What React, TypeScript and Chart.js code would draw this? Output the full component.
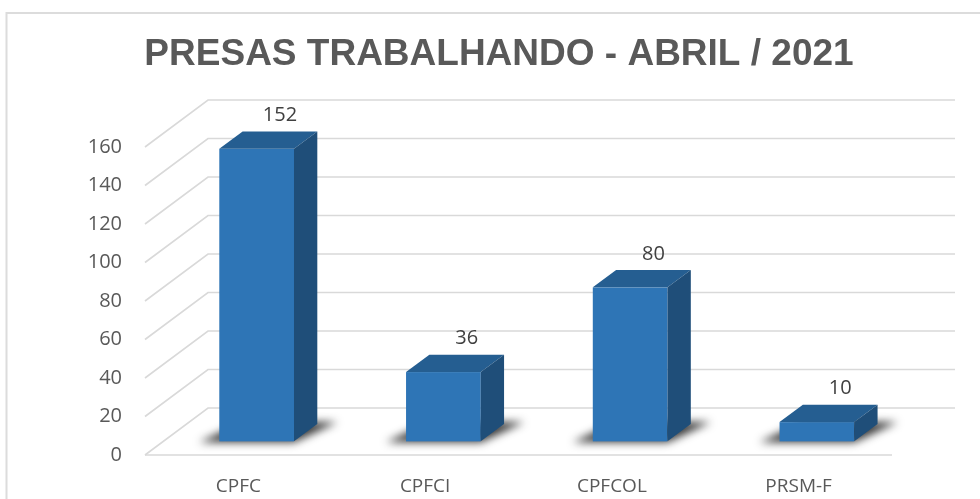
import { useEffect, useRef } from "react";
import { Chart, registerables } from "chart.js";

Chart.register(...registerables);

const categories = ["CPFC", "CPFCI", "CPFCOL", "PRSM-F"];
const values = [152, 36, 80, 10];
const yTicks = [0, 20, 40, 60, 80, 100, 120, 140, 160];
const titleText = "PRESAS TRABALHANDO - ABRIL / 2021";

const DX = 63; // depth offset of floor (x)
const DY = 47; // depth offset of floor (y)
const F1 = 0.29; // bar front depth fraction
const F2 = 0.66; // bar back depth fraction
const FRONT = "#2E75B6";
const TOP = "#255E91";
const SIDE = "#1F4E79";
const GRID = "#d9d9d9";

const threeD = {
  id: "threeD",
  beforeDraw(chart: any) {
    const ctx = chart.ctx;
    ctx.save();
    ctx.strokeStyle = "#dcdcdc";
    ctx.lineWidth = 2;
    ctx.strokeRect(6.5, 13, 1200, 800);
    ctx.restore();
  },
  beforeDatasetsDraw(chart: any) {
    const ctx = chart.ctx;
    const { left, right } = chart.chartArea;
    const ys = chart.scales.y;
    ctx.save();
    ctx.strokeStyle = GRID;
    ctx.lineWidth = 1.6;
    yTicks.forEach((v) => {
      const y = ys.getPixelForValue(v);
      ctx.beginPath();
      ctx.moveTo(left, y);
      ctx.lineTo(left + DX, y - DY);
      ctx.lineTo(right + DX, y - DY);
      ctx.stroke();
    });
    const y0 = ys.getPixelForValue(yTicks[0]);
    ctx.beginPath();
    ctx.moveTo(left, y0);
    ctx.lineTo(right, y0);
    ctx.stroke();
    ctx.restore();
  },
  afterDatasetsDraw(chart: any) {
    const ctx = chart.ctx;
    const meta = chart.getDatasetMeta(0);
    const sx1 = F1 * DX, sy1 = F1 * DY;
    const bdx = (F2 - F1) * DX, bdy = (F2 - F1) * DY;
    // shadows
    meta.data.forEach((bar: any) => {
      const w = bar.width;
      const fl = bar.x - w / 2 + sx1;
      const fr = bar.x + w / 2 + sx1;
      const fb = bar.base - sy1;
      ctx.save();
      ctx.filter = "blur(4px)";
      ctx.fillStyle = "rgba(20,20,20,0.85)";
      ctx.beginPath();
      ctx.moveTo(fl - 20, fb + 1);
      ctx.lineTo(fr, fb + 1);
      ctx.lineTo(fr + bdx + 20, fb - bdy - 2);
      ctx.lineTo(fl + bdx, fb - bdy - 2);
      ctx.closePath();
      ctx.fill();
      ctx.restore();
    });
    meta.data.forEach((bar: any, i: number) => {
      const w = bar.width;
      const fl = bar.x - w / 2 + sx1;
      const fr = bar.x + w / 2 + sx1;
      const ft = bar.y - sy1;
      const fb = bar.base - sy1;
      ctx.save();
      // front
      ctx.fillStyle = FRONT;
      ctx.fillRect(fl, ft, fr - fl, fb - ft);
      // top
      ctx.fillStyle = TOP;
      ctx.beginPath();
      ctx.moveTo(fl, ft);
      ctx.lineTo(fr, ft);
      ctx.lineTo(fr + bdx, ft - bdy);
      ctx.lineTo(fl + bdx, ft - bdy);
      ctx.closePath();
      ctx.fill();
      // side
      ctx.fillStyle = SIDE;
      ctx.beginPath();
      ctx.moveTo(fr, ft);
      ctx.lineTo(fr + bdx, ft - bdy);
      ctx.lineTo(fr + bdx, fb - bdy);
      ctx.lineTo(fr, fb);
      ctx.closePath();
      ctx.fill();
      // label
      ctx.fillStyle = "#404040";
      ctx.font = "20px 'Open Sans'";
      ctx.textAlign = "center";
      ctx.textBaseline = "middle";
      ctx.fillText(String(values[i]), bar.x + sx1 + bdx, ft - bdy - 16);
      ctx.restore();
    });
  },
};

export default function App() {
  const ref = useRef<HTMLCanvasElement | null>(null);
  useEffect(() => {
    document.body.style.margin = "0";
    const chart = new Chart(ref.current as HTMLCanvasElement, {
      type: "bar",
      data: {
        labels: categories,
        datasets: [
          {
            data: values,
            backgroundColor: "rgba(0,0,0,0)",
            borderWidth: 0,
            barPercentage: 0.4,
            categoryPercentage: 1,
          },
        ],
      },
      options: {
        animation: false,
        responsive: false,
        layout: { padding: { left: 18, right: 0, top: 0, bottom: 0 } },
        plugins: {
          legend: { display: false },
          tooltip: { enabled: false },
          title: {
            display: true,
            text: titleText,
            color: "#595959",
            font: { family: "'Liberation Sans', Arial, sans-serif", size: 37, weight: "bold" },
            padding: { top: 33, bottom: 69.6 },
          },
        },
        scales: {
          x: {
            grid: { display: false, drawTicks: false },
            border: { display: false },
            ticks: { color: "#595959", font: { family: "'Open Sans'", size: 19 }, padding: 20 },
            afterFit: (s: any) => { s.height = 44; },
          },
          y: {
            min: yTicks[0],
            max: yTicks[yTicks.length - 1],
            grid: { display: false, drawTicks: false },
            border: { display: false },
            ticks: { stepSize: yTicks[1] - yTicks[0], color: "#595959", font: { family: "'Open Sans'", size: 20 }, padding: 23 },
            afterFit: (s: any) => { s.width = 127; },
          },
          yRight: {
            position: "right",
            display: true,
            grid: { display: false, drawTicks: false },
            border: { display: false },
            ticks: { display: false },
            afterFit: (s: any) => { s.width = 88; },
          },
        },
      },
      plugins: [threeD],
    });
    return () => chart.destroy();
  }, []);
  return (
    <div style={{ width: 980, height: 499 }}>
      <canvas ref={ref} width={980} height={499} style={{ display: "block" }} />
    </div>
  );
}
